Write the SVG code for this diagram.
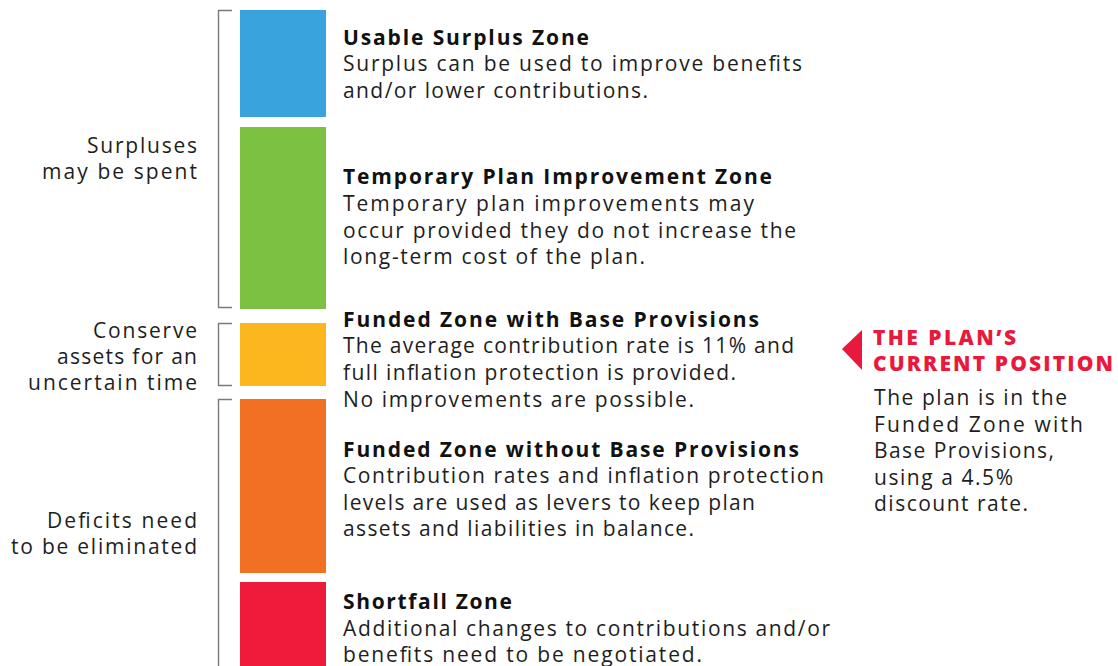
<svg xmlns="http://www.w3.org/2000/svg" width="1118" height="666" viewBox="0 0 1118 666">
<style>
text{font-family:"Open Sans","Liberation Sans",sans-serif;font-size:21px;fill:#1e1e1e}
.t{font-weight:700;fill:#111}
.l{text-anchor:end}
.r{fill:#E8193C;font-weight:800}
.br{fill:none;stroke:#7a7a7a;stroke-width:1.4}
</style>
<rect width="1118" height="666" fill="#fff"/>
<g id="brackets" class="br">
<path class="br" d="M232,10.5H218.5V307.5H232"/>
<path class="br" d="M232,323.5H218.5V385.5H232"/>
<path class="br" d="M232,399.5H218.5V666"/>
</g>
<g id="usable">
<rect x="240" y="10" width="86" height="107" fill="#38A3DD"/>
<text class="t" x="343" y="45" textLength="246">Usable Surplus Zone</text>
<text x="343" y="71" textLength="459">Surplus can be used to improve benefits</text>
<text x="343" y="98" textLength="305">and/or lower contributions.</text>
</g>
<g id="temporary">
<rect x="240" y="127" width="86" height="182" fill="#7DC142"/>
<text class="t" x="343" y="184" textLength="429">Temporary Plan Improvement Zone</text>
<text x="343" y="211" textLength="411">Temporary plan improvements may</text>
<text x="343" y="238" textLength="453">occur provided they do not increase the</text>
<text x="343" y="264" textLength="302">long-term cost of the plan.</text>
</g>
<g id="funded-base">
<rect x="240" y="323" width="86" height="63" fill="#FDB71E"/>
<text class="t" x="343" y="327" textLength="416">Funded Zone with Base Provisions</text>
<text x="343" y="353" textLength="451">The average contribution rate is 11% and</text>
<text x="343" y="380" textLength="393">full inflation protection is provided.</text>
<text x="343" y="407" textLength="351">No improvements are possible.</text>
</g>
<g id="funded-nobase">
<rect x="240" y="399" width="86" height="174" fill="#F27024"/>
<text class="t" x="343" y="457" textLength="456">Funded Zone without Base Provisions</text>
<text x="343" y="483" textLength="481">Contribution rates and inflation protection</text>
<text x="343" y="510" textLength="412">levels are used as levers to keep plan</text>
<text x="343" y="536" textLength="351">assets and liabilities in balance.</text>
</g>
<g id="shortfall">
<rect x="240" y="582" width="86" height="84" fill="#EE1C3A"/>
<text class="t" x="343" y="609" textLength="169">Shortfall Zone</text>
<text x="343" y="636" textLength="487">Additional changes to contributions and/or</text>
<text x="343" y="662" textLength="359">benefits need to be negotiated.</text>
</g>
<g id="label-surpluses">
<text class="l" x="197" y="153" textLength="110">Surpluses</text>
<text class="l" x="197" y="179" textLength="155">may be spent</text>
</g>
<g id="label-conserve">
<text class="l" x="197" y="338" textLength="104">Conserve</text>
<text class="l" x="197" y="364" textLength="140">assets for an</text>
<text class="l" x="197" y="390" textLength="169">uncertain time</text>
</g>
<g id="label-deficits">
<text class="l" x="197" y="528" textLength="150">Deficits need</text>
<text class="l" x="197" y="554" textLength="186">to be eliminated</text>
</g>
<g id="current-position">
<polygon points="842,349 862,330 862,370" fill="#E8193C"/>
<text class="r" x="873" y="345" textLength="143">THE PLAN’S</text>
<text class="r" x="873" y="371" textLength="240">CURRENT POSITION</text>
<text x="874" y="405" textLength="193">The plan is in the</text>
<text x="874" y="432" textLength="209">Funded Zone with</text>
<text x="874" y="458" textLength="180">Base Provisions,</text>
<text x="874" y="485" textLength="139">using a 4.5%</text>
<text x="874" y="511" textLength="154">discount rate.</text>
</g>
</svg>
